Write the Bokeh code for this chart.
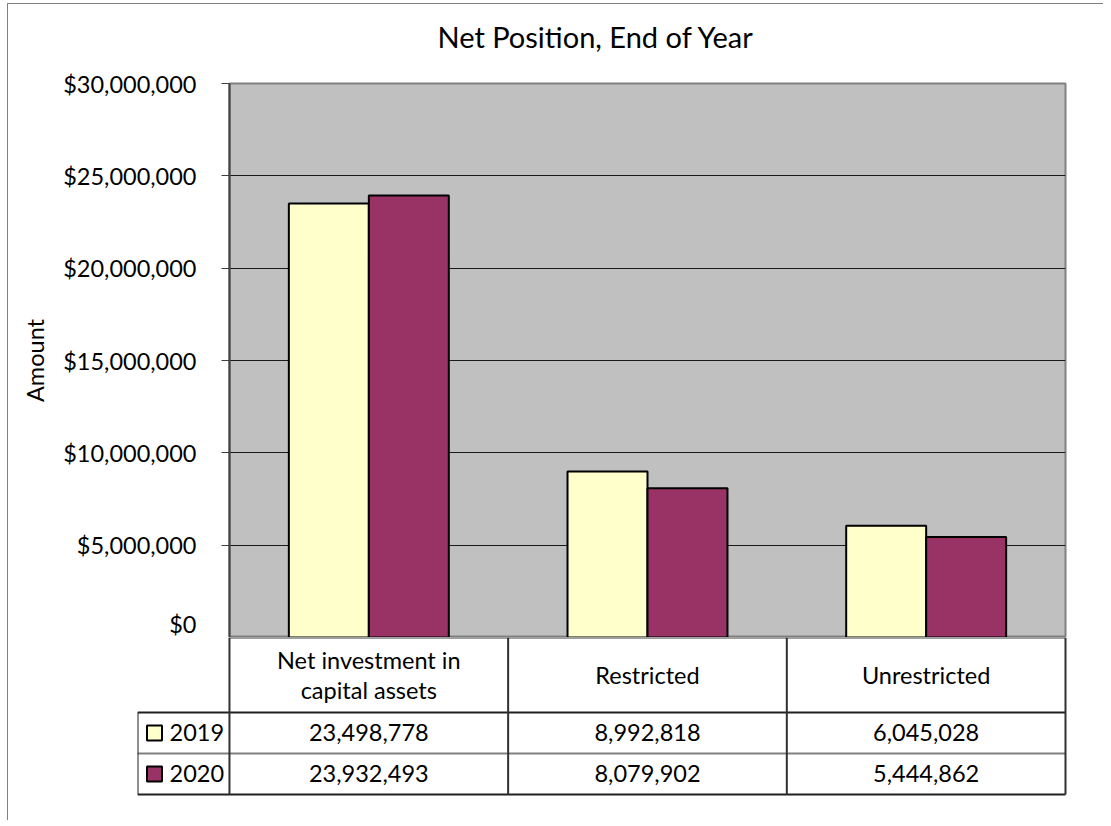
from bokeh.plotting import figure
from bokeh.models import Range1d, FactorRange, NumeralTickFormatter, FixedTicker, ColumnDataSource
from bokeh.transform import dodge
from bokeh.layouts import column
from bokeh.core.properties import value
from bokeh.embed import file_html
from bokeh.resources import INLINE

# ---------------- data ----------------
title_text = "Net Position, End of Year"
categories = ["Net investment in capital assets", "Restricted", "Unrestricted"]
category_labels = ["Net investment in\ncapital assets", "Restricted", "Unrestricted"]
years = ["2019", "2020"]
values_2019 = [23498778, 8992818, 6045028]
values_2020 = [23932493, 8079902, 5444862]
y_ticks = [0, 5000000, 10000000, 15000000, 20000000, 25000000, 30000000]

color_2019 = "#FFFFCC"
color_2020 = "#993366"
FONT = "Lato"
FS = "23.5px"

src = ColumnDataSource(dict(cat=categories, v2019=values_2019, v2020=values_2020))

# ---------------- title strip ----------------
W = 1095
TH = 60
h = figure(width=W, height=TH, x_range=Range1d(0, W), y_range=Range1d(0, TH),
           x_axis_location=None, y_axis_location=None,
           output_backend="svg", toolbar_location=None,
           min_border_left=0, min_border_right=0, min_border_top=0, min_border_bottom=0,
           background_fill_color="white", border_fill_color="white", outline_line_color=None)
h.frame_align = False
h.grid.visible = False
h.text(x=[429], y=[TH - 32], text=[title_text], text_font=value(FONT), text_font_size="29px",
       text_align="left", text_baseline="middle", text_color="black")

# ---------------- chart ----------------
p = figure(width=W, height=573,
           x_range=FactorRange(factors=categories, range_padding=0),
           y_range=Range1d(0, 30000000),
           x_axis_location=None,
           output_backend="svg", toolbar_location=None,
           min_border_left=221, min_border_right=38, min_border_top=19, min_border_bottom=0,
           background_fill_color="#C0C0C0", border_fill_color="white",
           outline_line_color="#808080", outline_line_width=2)
p.frame_align = False
p.xgrid.visible = False

p.vbar(x=dodge("cat", -0.1435, range=p.x_range), top="v2019", width=0.287, source=src,
       fill_color=color_2019, line_color="black", line_width=2)
p.vbar(x=dodge("cat", 0.1435, range=p.x_range), top="v2020", width=0.287, source=src,
       fill_color=color_2020, line_color="black", line_width=2)

p.yaxis.ticker = FixedTicker(ticks=y_ticks)
p.yaxis.formatter = NumeralTickFormatter(format="$0,0")
p.yaxis.major_label_text_font = FONT
p.yaxis.major_label_text_font_size = FS
p.yaxis.major_label_text_color = "black"
p.yaxis.major_tick_out = 8
p.yaxis.major_tick_in = 0
p.yaxis.minor_tick_out = 0
p.yaxis.minor_tick_in = 0
p.yaxis.major_label_standoff = 25
p.yaxis.axis_line_color = "#404040"
p.yaxis.axis_line_width = 2
p.yaxis.major_tick_line_color = "#404040"
p.yaxis.axis_label = "Amount"
p.yaxis.axis_label_text_font = FONT
p.yaxis.axis_label_text_font_size = FS
p.yaxis.axis_label_text_font_style = "normal"
p.yaxis.axis_label_text_color = "black"
p.yaxis.axis_label_standoff = 11

p.ygrid.ticker = FixedTicker(ticks=y_ticks)
p.ygrid.grid_line_color = "#1a1a1a"
p.ygrid.grid_line_width = 1

# ---------------- data table ----------------
ROW_H = 75 / 41  # header row height in data-row units
top = 2 + ROW_H
t = figure(width=W, height=183,
           x_range=Range1d(-0.33, 3.0108), y_range=Range1d(-0.05, top),
           x_axis_location=None, y_axis_location=None,
           output_backend="svg", toolbar_location=None,
           min_border_left=129, min_border_right=35, min_border_top=0, min_border_bottom=24,
           background_fill_color="white", border_fill_color="white",
           outline_line_color=None)
t.frame_align = False
t.grid.visible = False

ncat = len(categories)
# horizontal lines
t.segment(x0=[-0.33, -0.33], y0=[0, 2], x1=[ncat, ncat], y1=[0, 2], line_color="#202020", line_width=2)
t.segment(x0=[-0.33], y0=[1], x1=[ncat], y1=[1], line_color="#808080", line_width=2)
t.segment(x0=[0], y0=[top], x1=[ncat], y1=[top], line_color="#404040", line_width=2)
# vertical lines
t.segment(x0=list(range(ncat + 1)), y0=[0] * (ncat + 1), x1=list(range(ncat + 1)), y1=[top] * (ncat + 1),
          line_color="#303030", line_width=2)
t.segment(x0=[-0.33], y0=[0], x1=[-0.33], y1=[2], line_color="#202020", line_width=2)

centers = [i + 0.5 for i in range(ncat)]
t.text(x=centers, y=[(2 + top) / 2] * ncat, text=category_labels,
       text_font=value(FONT), text_font_size=FS, text_align="center", text_baseline="middle",
       text_line_height=1.08, text_color="black")
t.text(x=centers, y=[1.5] * ncat, text=[f"{v:,}" for v in values_2019],
       text_font=value(FONT), text_font_size=FS, text_align="center", text_baseline="middle", text_color="black")
t.text(x=centers, y=[0.5] * ncat, text=[f"{v:,}" for v in values_2020],
       text_font=value(FONT), text_font_size=FS, text_align="center", text_baseline="middle", text_color="black")

# legend keys
t.scatter(x=[-0.269, -0.269], y=[1.5, 0.5], marker="square", size=15,
          fill_color=[color_2019, color_2020], line_color="black", line_width=2)
t.text(x=[-0.215, -0.215], y=[1.5, 0.5], text=years,
       text_font=value(FONT), text_font_size=FS, text_align="left", text_baseline="middle", text_color="black")

layout = column(h, p, t, spacing=0,
                styles={"margin-left": "7px", "margin-top": "3px",
                        "border-left": "1px solid #808080", "border-top": "1px solid #808080"})
open("out.html", "w").write(file_html(layout, INLINE))
